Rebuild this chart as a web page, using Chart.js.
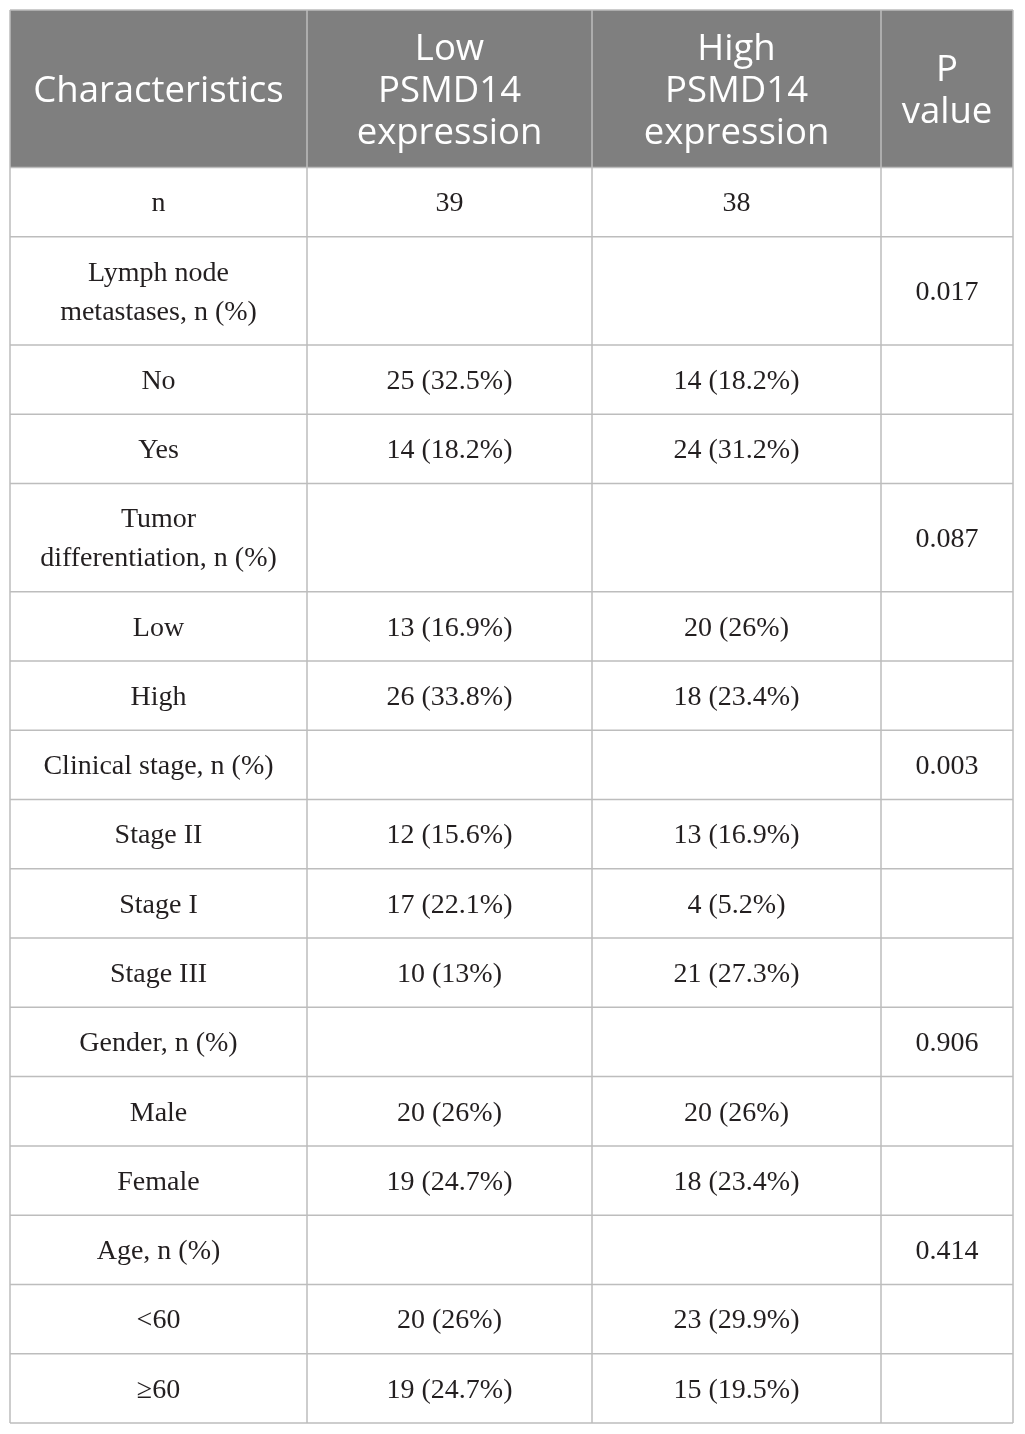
<!DOCTYPE html>
<html>
<head>
<meta charset="utf-8">
<script src="https://cdn.jsdelivr.net/npm/chart.js@4/dist/chart.umd.min.js"></script>
<style>
  html, body { margin: 0; padding: 0; background: #fff; }
  canvas { display: block; }
</style>
</head>
<body>
<canvas id="table" width="1025" height="1434"></canvas>
<script>
// --- Data ---
const headers = [
    ['Characteristics'],
    ['Low', 'PSMD14', 'expression'],
    ['High', 'PSMD14', 'expression'],
    ['P', 'value']
];
const characteristics = [
    'n', ['Lymph node', 'metastases, n (%)'], 'No', 'Yes',
    ['Tumor', 'differentiation, n (%)'], 'Low', 'High',
    'Clinical stage, n (%)', 'Stage II', 'Stage I', 'Stage III',
    'Gender, n (%)', 'Male', 'Female',
    'Age, n (%)', '<60', '\u226560'
];
const lowCounts  = [39, null, 25, 14, null, 13, 26, null, 12, 17, 10, null, 20, 19, null, 20, 19];
const lowPct     = [null, null, 32.5, 18.2, null, 16.9, 33.8, null, 15.6, 22.1, 13, null, 26, 24.7, null, 26, 24.7];
const highCounts = [38, null, 14, 24, null, 20, 18, null, 13, 4, 21, null, 20, 18, null, 23, 15];
const highPct    = [null, null, 18.2, 31.2, null, 26, 23.4, null, 16.9, 5.2, 27.3, null, 26, 23.4, null, 29.9, 19.5];
const pValues    = [null, 0.017, null, null, 0.087, null, null, 0.003, null, null, null, 0.906, null, null, 0.414, null, null];

// --- Layout ---
const colWidths = [297, 285, 289, 132];
const headerHeight = 158;
const bodyLine = 39;
const bodyPad = 30.5;
const headerFont = '36.5px "Open Sans"';
const bodyFont = '28px "Liberation Serif"';
const headerLine = 42;

const lines = v => Array.isArray(v) ? v : [v];
const fmt = (n, p) => n === null ? '' : (p === null ? String(n) : n + ' (' + p + '%)');

const colEdges = [0];
colWidths.forEach(w => colEdges.push(colEdges[colEdges.length - 1] + w));
const rowEdges = [0, headerHeight];
characteristics.forEach(c => rowEdges.push(rowEdges[rowEdges.length - 1] + bodyPad + bodyLine * lines(c).length));

const bodyCols = [
    characteristics.map(lines),
    lowCounts.map((n, i) => [fmt(n, lowPct[i])]),
    highCounts.map((n, i) => [fmt(n, highPct[i])]),
    pValues.map(p => [p === null ? '' : p.toFixed(3)])
];

const datasets = bodyCols.map((col, c) => ({
    label: headers[c].join(' '),
    data: [{ x: (colEdges[c] + colEdges[c + 1]) / 2, y: headerHeight / 2, text: headers[c], head: true }]
        .concat(col.map((t, r) => ({ x: (colEdges[c] + colEdges[c + 1]) / 2, y: (rowEdges[r + 1] + rowEdges[r + 2]) / 2, text: t }))),
    pointRadius: 0,
    pointHoverRadius: 0
}));

// --- Table drawing plugin ---
const tablePlugin = {
    id: 'tablePlugin',
    beforeDatasetsDraw(chart) {
        const { ctx, scales: { x, y } } = chart;
        ctx.save();
        ctx.fillStyle = '#7f7f7f';
        ctx.fillRect(x.getPixelForValue(0), y.getPixelForValue(0),
            x.getPixelForValue(colEdges[colEdges.length - 1]) - x.getPixelForValue(0),
            y.getPixelForValue(headerHeight) - y.getPixelForValue(0));

        ctx.strokeStyle = '#bdbdbd';
        ctx.lineWidth = 1.5;
        const x0 = x.getPixelForValue(0), x1 = x.getPixelForValue(colEdges[colEdges.length - 1]);
        const y0 = y.getPixelForValue(0), y1 = y.getPixelForValue(rowEdges[rowEdges.length - 1]);
        ctx.beginPath();
        rowEdges.forEach(r => { const py = y.getPixelForValue(r); ctx.moveTo(x0, py); ctx.lineTo(x1, py); });
        colEdges.forEach(c => { const px = x.getPixelForValue(c); ctx.moveTo(px, y0); ctx.lineTo(px, y1); });
        ctx.stroke();
        ctx.restore();
    },
    afterDatasetsDraw(chart) {
        const { ctx } = chart;
        ctx.save();
        ctx.textAlign = 'center';
        ctx.textBaseline = 'middle';
        chart.data.datasets.forEach((ds, d) => {
            chart.getDatasetMeta(d).data.forEach((pt, i) => {
                const cell = ds.data[i];
                const lh = cell.head ? headerLine : bodyLine;
                ctx.font = cell.head ? headerFont : bodyFont;
                ctx.fillStyle = cell.head ? '#ffffff' : '#231f20';
                const start = pt.y - lh * (cell.text.length - 1) / 2;
                const nudge = cell.head ? 3 : 2;
                cell.text.forEach((t, k) => ctx.fillText(t, pt.x, start + k * lh + nudge));
            });
        });
        ctx.restore();
    }
};

new Chart(document.getElementById('table').getContext('2d'), {
    type: 'scatter',
    data: { datasets },
    options: {
        responsive: false,
        animation: false,
        events: [],
        layout: { padding: { left: 10, right: 12, top: 10, bottom: 11 } },
        plugins: { legend: { display: false }, tooltip: { enabled: false } },
        scales: {
            x: { type: 'linear', display: false, min: 0, max: colEdges[colEdges.length - 1] },
            y: { type: 'linear', display: false, reverse: true, min: 0, max: rowEdges[rowEdges.length - 1] }
        }
    },
    plugins: [tablePlugin]
});
</script>
</body>
</html>
